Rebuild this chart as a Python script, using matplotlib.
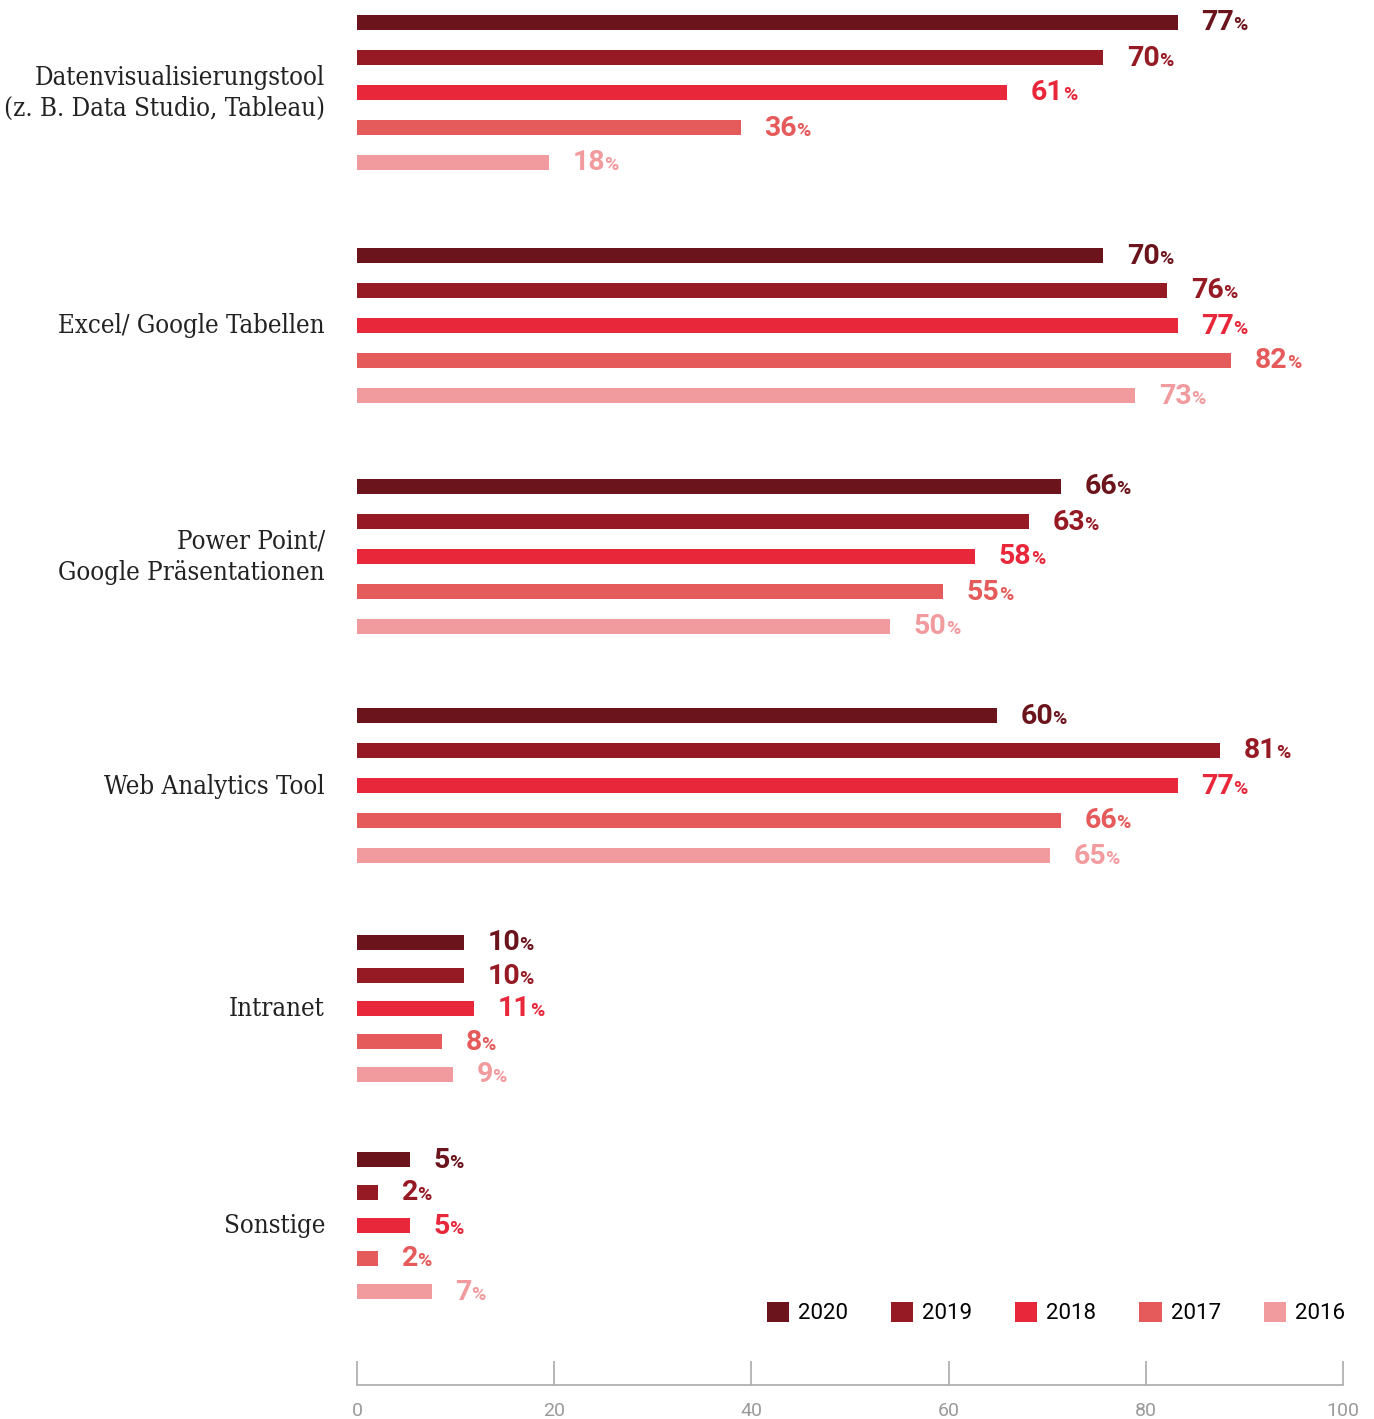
import matplotlib
matplotlib.use("Agg")
import matplotlib.pyplot as plt
from matplotlib.patches import Patch

W, H = 1374, 1419

tools = ["Datenvisualisierungstool\n(z. B. Data Studio, Tableau)",
         "Excel/ Google Tabellen",
         "Power Point/\nGoogle Präsentationen",
         "Web Analytics Tool",
         "Intranet",
         "Sonstige"]
years = ["2020", "2019", "2018", "2017", "2016"]

# share per tool, one list per year (percent)
v2020 = [77, 70, 66, 60, 10, 5]
v2019 = [70, 76, 63, 81, 10, 2]
v2018 = [61, 77, 58, 77, 11, 5]
v2017 = [36, 82, 55, 66, 8, 2]
v2016 = [18, 73, 50, 65, 9, 7]
values = [v2020, v2019, v2018, v2017, v2016]

colors = ["#6b141c", "#961a24", "#e8283a", "#e55a5a", "#f29b9e"]

scale_ticks = [0, 20, 40, 60, 80, 100]

fig = plt.figure(figsize=(W / 100, H / 100), dpi=100)

# bars: y runs in pixel-like units from the top, x in percent
ax = fig.add_axes([357 / W, 0, 986 / W, 1])
ax.set_xlim(0, 986 / 10.66)
ax.set_ylim(H, 0)
ax.axis("off")

bar_h = 15
cursor = 22
for g, tool in enumerate(tools):
    pitch = 35 if g < 4 else 33
    rows = [cursor + s * pitch for s in range(len(years))]
    for s, yc in enumerate(rows):
        val = values[s][g]
        ax.barh(yc, val, height=bar_h, color=colors[s])
        num = ax.annotate(str(val), xy=(val, yc + 8.5), xytext=(17, 0),
                          textcoords="offset points", ha="left", va="baseline",
                          fontsize=20.5, fontweight="bold", family="Roboto",
                          color=colors[s])
        ax.annotate("%", xy=(1, yc + 8.5), xycoords=(num, "data"),
                    xytext=(-0.5, 0), textcoords="offset points",
                    ha="left", va="baseline", fontsize=14, fontweight="bold",
                    family="Roboto", color=colors[s])
    ymid = rows[2]
    fig.text(325 / W, 1 - (ymid + 1) / H, tool, ha="right", va="center",
             fontsize=18.5, family="DejaVu Serif", fontstretch="condensed",
             color="#222222", linespacing=1.3, multialignment="right")
    cursor = rows[-1] + 93 - 2 * g

# percent scale along the bottom
sax = fig.add_axes([357 / W, (H - 1385) / H, 986 / W, 0.02])
sax.set_xlim(0, 100)
sax.set_ylim(0, 1)
for side in ["top", "left", "right"]:
    sax.spines[side].set_visible(False)
sax.spines["bottom"].set_color("#aaaaaa")
sax.spines["bottom"].set_linewidth(1.2)
sax.set_yticks([])
sax.set_xticks(scale_ticks)
sax.set_xticklabels([str(t) for t in scale_ticks])
sax.tick_params(axis="x", direction="in", length=17, width=1.2, color="#aaaaaa",
                labelcolor="#9a9a9a", labelsize=14, pad=12)
for lbl in sax.get_xticklabels():
    lbl.set_family("Roboto")
sax.patch.set_visible(False)

handles = [Patch(facecolor=c, edgecolor="none", label=y) for c, y in zip(colors, years)]
fig.legend(handles=handles, ncol=5, loc="center right",
           bbox_to_anchor=(1345 / W, 1 - 1313 / H), frameon=False,
           prop={"family": "Roboto", "size": 16},
           handlelength=1.0, handleheight=1.0, handletextpad=0.4,
           columnspacing=1.94, borderpad=0, borderaxespad=0)

fig.savefig("out.png", dpi=100, facecolor="white")
